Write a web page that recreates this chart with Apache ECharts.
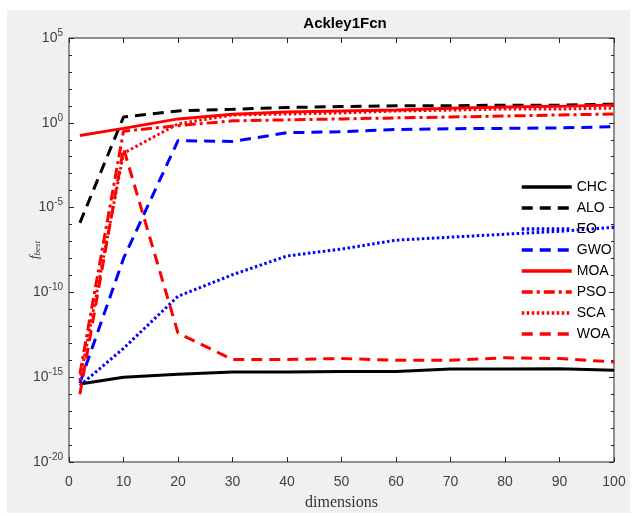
<!DOCTYPE html>
<html>
<head>
<meta charset="utf-8">
<script src="https://cdn.jsdelivr.net/npm/echarts@6/dist/echarts.min.js"></script>
<style>
  html, body { margin: 0; padding: 0; background: #fff; }
  #app { width: 634px; height: 516px; }
</style>
</head>
<body>
<div id="app"></div>
<script>
// dimensions tested
var dims = [2, 10, 20, 30, 40, 50, 60, 70, 80, 90, 100];
// best fitness per algorithm
var chc = [4e-16, 1e-15, 1.5e-15, 2e-15, 2e-15, 2.2e-15, 2.2e-15, 3e-15, 3e-15, 3.2e-15, 2.6e-15];
var alo = [1.26e-6, 2.2, 5, 6.3, 8, 9, 10, 10, 11, 11, 12.6];
var eo  = [3.2e-16, 5e-14, 5.9e-11, 1.1e-9, 1.4e-8, 3.6e-8, 1.2e-7, 1.8e-7, 2.7e-7, 4e-7, 6.9e-7];
var gwo = [4.5e-16, 1e-8, 0.089, 0.079, 0.26, 0.3, 0.4, 0.45, 0.47, 0.5, 0.59];
var moa = [0.18, 0.47, 1.7, 3.2, 4.4, 5, 5.6, 7.1, 8.5, 9.3, 11.2];
var pso = [1.6e-15, 0.32, 0.68, 1.3, 1.5, 1.7, 1.95, 2.2, 2.5, 2.9, 3.3];
var sca = [6.3e-16, 0.016, 0.87, 2.9, 3.3, 3.8, 5, 5.6, 6.5, 6.5, 7.4];
var woa = [1e-16, 0.032, 4e-13, 1.1e-14, 1.1e-14, 1.26e-14, 1e-14, 1e-14, 1.4e-14, 1.26e-14, 7.9e-15];

var names = ['CHC', 'ALO', 'EO', 'GWO', 'MOA', 'PSO', 'SCA', 'WOA'];
var values = [chc, alo, eo, gwo, moa, pso, sca, woa];
var colors = ['#000', '#000', '#0000ff', '#0000ff', '#ff0000', '#ff0000', '#ff0000', '#ff0000'];
var dashes = ['solid', [11, 7], [2.5, 2.5], [11, 7], 'solid', [11, 4, 3, 4], [2.5, 2.5], [11, 7]];

var series = names.map(function (n, i) {
    return {
        name: n,
        type: 'line',
        symbol: 'none',
        silent: true,
        lineStyle: { color: colors[i], width: 3, type: dashes[i] },
        itemStyle: { color: colors[i] },
        // y axis works in decades (log10 of the value)
        data: dims.map(function (d, k) { return [d, Math.log10(values[i][k])]; })
    };
});

var tick = { inside: true, length: 5, lineStyle: { color: '#262626' } };
var minor = { show: true, splitNumber: 5, length: 3, lineStyle: { color: '#262626' } };

var myEchart = echarts.init(document.getElementById('app'));
myEchart.setOption({
    backgroundColor: '#fff',
    animation: false,
    textStyle: { fontFamily: 'Liberation Sans' },
    graphic: [{
        type: 'rect', z: -10,
        shape: { x: 7, y: 10, width: 623, height: 503 },
        style: { fill: '#f0f0f0' }
    }],
    title: {
        text: 'Ackley1Fcn',
        left: 340, top: 11, textAlign: 'center',
        textStyle: { fontSize: 15, fontWeight: 'bold', color: '#000', fontFamily: 'Liberation Sans' }
    },
    grid: {
        left: 69, right: 20, top: 38, bottom: 48,
        show: true, backgroundColor: '#fff', borderColor: '#262626', borderWidth: 1
    },
    legend: {
        orient: 'vertical',
        left: 515, top: 175,
        itemWidth: 50, itemHeight: 14, itemGap: 7,
        itemStyle: { opacity: 0 },
        lineStyle: { width: 3.5 },
        textStyle: { fontSize: 14, color: '#000' },
        data: names
    },
    xAxis: [{
        type: 'value', min: 0, max: 100, interval: 10,
        name: 'dimensions', nameLocation: 'middle', nameGap: 33, nameMoveOverlap: false,
        nameTextStyle: { fontFamily: 'Liberation Serif', fontSize: 16, color: '#333' },
        axisLine: { show: false, onZero: false },
        axisTick: tick,
        axisLabel: { fontSize: 14, color: '#404040', margin: 13 },
        splitLine: { show: false }
    }, {
        type: 'value', min: 0, max: 100, interval: 10, position: 'top',
        axisLine: { show: false, onZero: false },
        axisTick: tick,
        axisLabel: { show: false },
        splitLine: { show: false }
    }],
    yAxis: [{
        type: 'value', min: -20, max: 5, interval: 5,
        name: '{f|f}{s|best}', nameLocation: 'middle', nameGap: 27, nameRotate: 90, nameMoveOverlap: false,
        nameTextStyle: {
            rich: {
                f: { fontFamily: 'Liberation Serif', fontStyle: 'italic', fontSize: 13, color: '#333' },
                s: { fontFamily: 'Liberation Serif', fontStyle: 'italic', fontSize: 9, color: '#333', padding: [6, 0, 0, 0] }
            }
        },
        axisLine: { show: false, onZero: false },
        axisTick: tick,
        minorTick: minor,
        axisLabel: {
            margin: 6,
            formatter: function (v) { return '{b|10}{e|' + v + '}'; },
            rich: {
                b: { fontSize: 14, color: '#404040' },
                e: { fontSize: 10, color: '#404040', padding: [0, 0, 10, 0] }
            }
        },
        splitLine: { show: false }
    }, {
        type: 'value', min: -20, max: 5, interval: 5, position: 'right',
        axisLine: { show: false, onZero: false },
        axisTick: tick,
        minorTick: minor,
        axisLabel: { show: false },
        splitLine: { show: false }
    }],
    series: series
});
</script>
</body>
</html>
